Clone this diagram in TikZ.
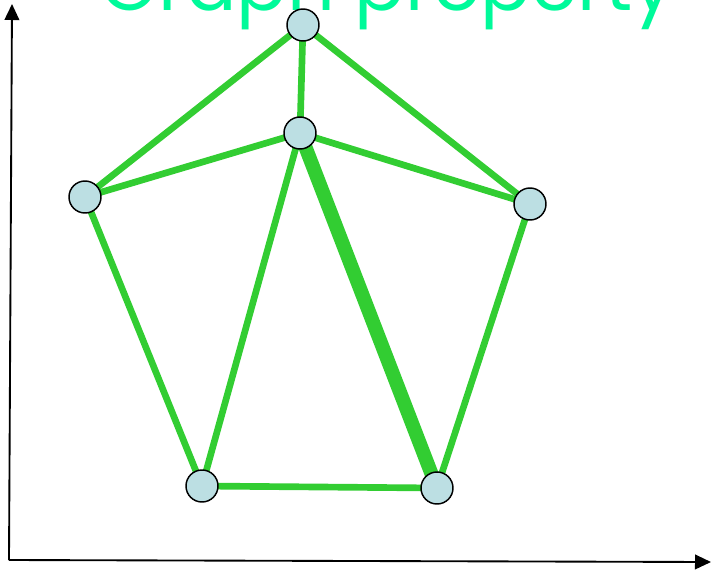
\documentclass[tikz,border=0pt]{standalone}
\usepackage{fontspec}
\usepackage{tikz}
\usetikzlibrary{arrows.meta}
\newfontfamily\titlefont{Poppins}
\definecolor{edgegreen}{RGB}{50,205,50}
\definecolor{vertexblue}{RGB}{188,223,227}
\definecolor{titlegreen}{RGB}{0,250,154}

\begin{document}
\begin{tikzpicture}[
  x=0.75pt,
  y=-0.75pt,
  >={Triangle[length=12pt,width=11pt]},
  vertex/.style={draw, circle, fill=vertexblue, line width=1.1pt, minimum size=24pt, inner sep=0pt},
  edge/.style={draw=edgegreen, line width=5pt},
  axis/.style={draw, line width=1.4pt, ->}
]
\useasboundingbox (0,0) rectangle (711,569);
\clip (0,0) rectangle (711,569);

\node[text=titlegreen, anchor=base west, inner sep=0pt, font=\titlefont\fontsize{56}{62}\selectfont] (title) at (100,10) {Graph property};

\coordinate (origin) at (9,560);
\coordinate (ytip) at (12,4);
\coordinate (xtip) at (711,562);
\draw[axis] (origin) -- (ytip);
\draw[axis] (origin) -- (xtip);

% vertex positions
\coordinate (top) at (303,25);
\coordinate (mid) at (300,133);
\coordinate (left) at (85,197);
\coordinate (right) at (530,204);
\coordinate (botl) at (202,486);
\coordinate (botr) at (437,488);

% edges first, vertices drawn on top
\draw[edge] (top) -- (left);
\draw[edge] (top) -- (right);
\draw[edge] (top) -- (mid);
\draw[edge] (mid) -- (left);
\draw[edge] (mid) -- (right);
\draw[edge] (mid) -- (botl);
\draw[edge, line width=10.5pt] (mid) -- (botr);
\draw[edge] (left) -- (botl);
\draw[edge] (right) -- (botr);
\draw[edge] (botl) -- (botr);

\foreach \v in {top,mid,left,right,botl,botr}
  \node[vertex] (v-\v) at (\v) {};
\end{tikzpicture}
\end{document}
